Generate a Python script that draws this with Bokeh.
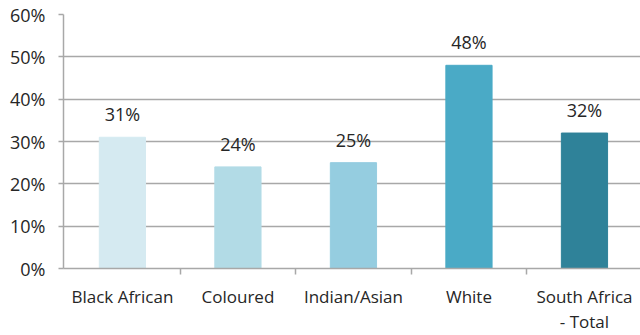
from bokeh.plotting import figure
from bokeh.models import Range1d, FixedTicker, NumeralTickFormatter, ColumnDataSource
from bokeh.core.properties import value
from bokeh.embed import file_html
from bokeh.resources import INLINE

categories = ["Black African", "Coloured", "Indian/Asian", "White", "South Africa\n- Total"]
values = [0.31, 0.24, 0.25, 0.48, 0.32]
labels = ["31%", "24%", "25%", "48%", "32%"]
colors = ["#d5eaf1", "#b2dbe6", "#95cde0", "#4aaac6", "#2f8299"]
y_ticks = [0, 0.1, 0.2, 0.3, 0.4, 0.5, 0.6]

xs = list(range(len(categories)))
src = ColumnDataSource(dict(x=xs, top=values, label=labels, color=colors))

FONT = "Open Sans"
TXT = "#262626"
GRID = "#a8a8a8"
FS = "18px"

p = figure(width=640, height=335, output_backend="svg", toolbar_location=None,
           x_range=Range1d(-0.51, 4.485), y_range=Range1d(0, 0.6),
           min_border_left=63, min_border_right=0, min_border_top=14, min_border_bottom=0)
p.outline_line_color = None
p.background_fill_color = "white"
p.border_fill_color = "white"

p.vbar(x="x", top="top", width=0.4, bottom=0, color="color", source=src)
p.text(x="x", y="top", text="label", source=src, text_align="center", text_baseline="bottom",
       y_offset=-11, text_font=value(FONT), text_font_size=FS, text_color=TXT)

p.xgrid.grid_line_color = None
p.ygrid.grid_line_color = GRID
p.ygrid.grid_line_width = 1.5
p.ygrid.ticker = FixedTicker(ticks=y_ticks)

xa = p.xaxis[0]
xa.ticker = FixedTicker(ticks=xs, minor_ticks=[i + 0.5 for i in xs[:-1]])
xa.major_label_overrides = {i: c for i, c in enumerate(categories)}
xa.major_tick_out = 0
xa.major_tick_in = 0
xa.minor_tick_out = 6
xa.minor_tick_in = 0
xa.minor_tick_line_color = GRID
xa.minor_tick_line_width = 1.5
xa.axis_line_color = GRID
xa.axis_line_width = 1.5
xa.major_label_standoff = 10
xa.major_label_text_font = FONT
xa.major_label_text_font_size = "17px"
xa.major_label_text_line_height = 1.1
xa.major_label_text_color = TXT

ya = p.yaxis[0]
ya.ticker = FixedTicker(ticks=y_ticks)
ya.formatter = NumeralTickFormatter(format="0%")
ya.major_tick_out = 5
ya.major_tick_in = 0
ya.minor_tick_out = 0
ya.minor_tick_in = 0
ya.major_tick_line_color = GRID
ya.major_tick_line_width = 1.5
ya.axis_line_color = GRID
ya.axis_line_width = 1.5
ya.major_label_standoff = 13
ya.major_label_text_font = FONT
ya.major_label_text_font_size = FS
ya.major_label_text_color = TXT

open("out.html", "w").write(file_html(p, INLINE))
